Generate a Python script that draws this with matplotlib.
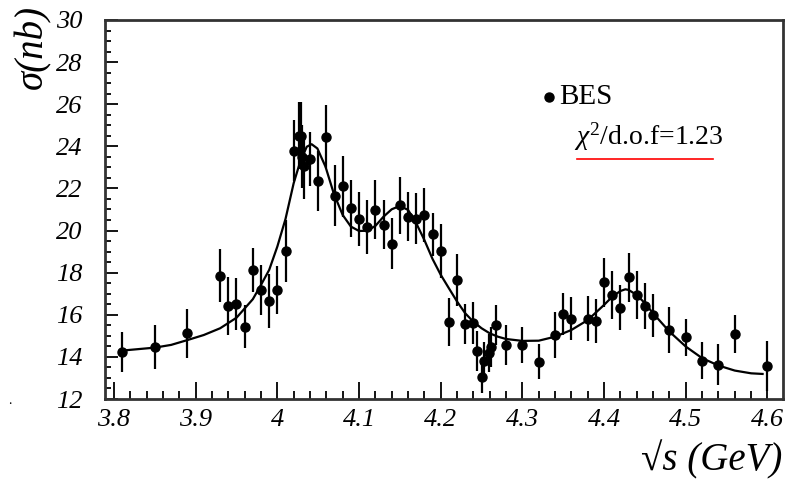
import numpy as np
import matplotlib.pyplot as plt
from matplotlib.ticker import MultipleLocator

# BES R-scan cross section points
energy = [3.81, 3.85, 3.89, 3.93, 3.94, 3.95, 3.96, 3.97, 3.98, 3.99,
          4.00, 4.01, 4.02, 4.026, 4.029, 4.03, 4.033, 4.04, 4.05, 4.06,
          4.07, 4.08, 4.09, 4.10, 4.11, 4.12, 4.13, 4.14, 4.15, 4.16,
          4.17, 4.18, 4.19, 4.20, 4.21, 4.22, 4.23, 4.24, 4.244, 4.25,
          4.253, 4.259, 4.262, 4.268, 4.28, 4.30, 4.32, 4.34, 4.35, 4.36,
          4.38, 4.39, 4.40, 4.41, 4.42, 4.43, 4.44, 4.45, 4.46, 4.48,
          4.50, 4.52, 4.54, 4.56, 4.60]
sigma = [14.22, 14.46, 15.12, 17.86, 16.43, 16.51, 15.44, 18.13, 17.17, 16.66,
         17.17, 19.03, 23.78, 24.51, 24.51, 23.51, 23.07, 23.40, 22.37, 24.46,
         21.66, 22.10, 21.06, 20.54, 20.16, 20.98, 20.28, 19.38, 21.20, 20.66,
         20.57, 20.76, 19.82, 19.03, 15.67, 17.65, 15.55, 15.60, 14.30, 13.03,
         13.81, 14.20, 14.46, 15.52, 14.57, 14.57, 13.76, 15.03, 16.03, 15.82,
         15.82, 15.71, 17.54, 16.94, 16.34, 17.78, 16.94, 16.42, 15.98, 15.28,
         14.93, 13.82, 13.62, 15.10, 13.57]
sigma_err = [0.95, 1.04, 1.15, 1.25, 1.37, 1.25, 1.03, 1.04, 1.20, 1.30,
             1.15, 1.46, 1.45, 1.60, 1.60, 1.50, 1.56, 1.30, 1.42, 1.50,
             1.46, 1.46, 1.35, 1.27, 1.29, 1.40, 1.15, 1.20, 1.35, 1.15,
             1.19, 1.28, 1.03, 1.27, 1.15, 1.23, 0.95, 1.00, 0.95, 0.75,
             0.90, 0.90, 0.95, 0.95, 0.95, 0.87, 0.83, 1.10, 1.00, 1.03,
             1.07, 1.03, 1.15, 1.15, 1.07, 1.16, 1.15, 1.10, 1.03, 1.09,
             0.87, 0.87, 0.97, 0.90, 1.20]

# fitted line shape
fit_e = [3.81, 3.85, 3.87, 3.89, 3.91, 3.93, 3.95, 3.97, 3.98, 3.99,
         4.00, 4.01, 4.02, 4.028, 4.036, 4.042, 4.049, 4.059, 4.069, 4.08,
         4.09, 4.10, 4.11, 4.12, 4.13, 4.14, 4.15, 4.16, 4.17, 4.18,
         4.19, 4.20, 4.21, 4.22, 4.23, 4.24, 4.25, 4.26, 4.27, 4.28,
         4.30, 4.32, 4.34, 4.36, 4.38, 4.40, 4.41, 4.42, 4.426, 4.43,
         4.44, 4.45, 4.46, 4.48, 4.50, 4.52, 4.54, 4.56, 4.58, 4.594]
fit_s = [14.30, 14.44, 14.57, 14.80, 15.04, 15.36, 15.86, 16.74, 17.42, 18.13,
         19.24, 20.55, 22.25, 23.27, 23.98, 24.10, 23.90, 23.03, 21.77, 20.74,
         20.19, 19.98, 19.99, 20.22, 20.66, 21.01, 21.17, 20.98, 20.35, 19.55,
         18.65, 17.90, 17.26, 16.63, 16.07, 15.67, 15.36, 15.12, 14.96, 14.85,
         14.76, 14.77, 14.96, 15.28, 15.75, 16.47, 16.86, 17.13, 17.21, 17.18,
         16.94, 16.55, 16.07, 15.20, 14.49, 13.94, 13.59, 13.35, 13.22, 13.19]

x_ticks = [3.8, 3.9, 4.0, 4.1, 4.2, 4.3, 4.4, 4.5, 4.6]
x_ticklabels = ['3.8', '3.9', '4', '4.1', '4.2', '4.3', '4.4', '4.5', '4.6']
y_ticks = [12, 14, 16, 18, 20, 22, 24, 26, 28, 30]

serif = ['Liberation Serif', 'DejaVu Serif']
plt.rcParams['mathtext.fontset'] = 'custom'
plt.rcParams['mathtext.rm'] = 'Liberation Serif'
plt.rcParams['mathtext.it'] = 'Liberation Serif:italic'

fig = plt.figure(figsize=(7.91, 4.84), dpi=100)
ax = fig.add_axes([0.1327, 0.1756, 0.8572, 0.7831])

ax.errorbar(energy, sigma, yerr=sigma_err, fmt='o', color='black',
            ms=6.5, elinewidth=1.6, capsize=0, zorder=3)
ax.plot(fit_e, fit_s, color='black', lw=1.6, zorder=2)

ax.set_xlim(3.789, 4.619)
ax.set_ylim(12, 30)
ax.set_xticks(x_ticks)
ax.set_xticklabels(x_ticklabels)
ax.set_yticks(y_ticks)
ax.xaxis.set_minor_locator(MultipleLocator(0.02))
ax.yaxis.set_minor_locator(MultipleLocator(0.5))

ax.tick_params(axis='x', which='major', direction='in', length=12, width=1.3,
               pad=7, top=False)
ax.tick_params(axis='x', which='minor', direction='in', length=6, width=1.3,
               top=False)
ax.tick_params(axis='y', which='major', direction='in', length=9, width=1.3,
               pad=16, right=False)
ax.tick_params(axis='y', which='minor', direction='in', length=4.5, width=1.3,
               right=False)
for lab in ax.get_xticklabels() + ax.get_yticklabels():
    lab.set_family(serif)
    lab.set_style('italic')
    lab.set_fontsize(19)

for sp in ax.spines.values():
    sp.set_linewidth(2)
    sp.set_color('#333333')

# legend block
ax.plot([0.655], [0.797], 'o', color='black', ms=6.5, transform=ax.transAxes)
ax.text(0.670, 0.797, 'BES', transform=ax.transAxes, fontsize=21,
        family=serif, va='center', ha='left')
ax.text(0.692, 0.672, r'$\chi^{2}$/d.o.f=1.23', transform=ax.transAxes,
        fontsize=20, family=serif, va='baseline', ha='left')
ax.plot([0.696, 0.897], [0.633, 0.633], color='red', lw=1.2,
        transform=ax.transAxes, clip_on=False)

fig.text(0.042, 0.99, 'σ(nb)', rotation=90, ha='center', va='top',
         fontsize=28, style='italic', family=serif)
fig.text(0.989, 0.01, '√s (GeV)', ha='right', va='bottom',
         fontsize=28, style='italic', family=serif)
fig.text(0.01, 0.165, '.', fontsize=10, family=serif)

fig.savefig('out.png', dpi=100)
